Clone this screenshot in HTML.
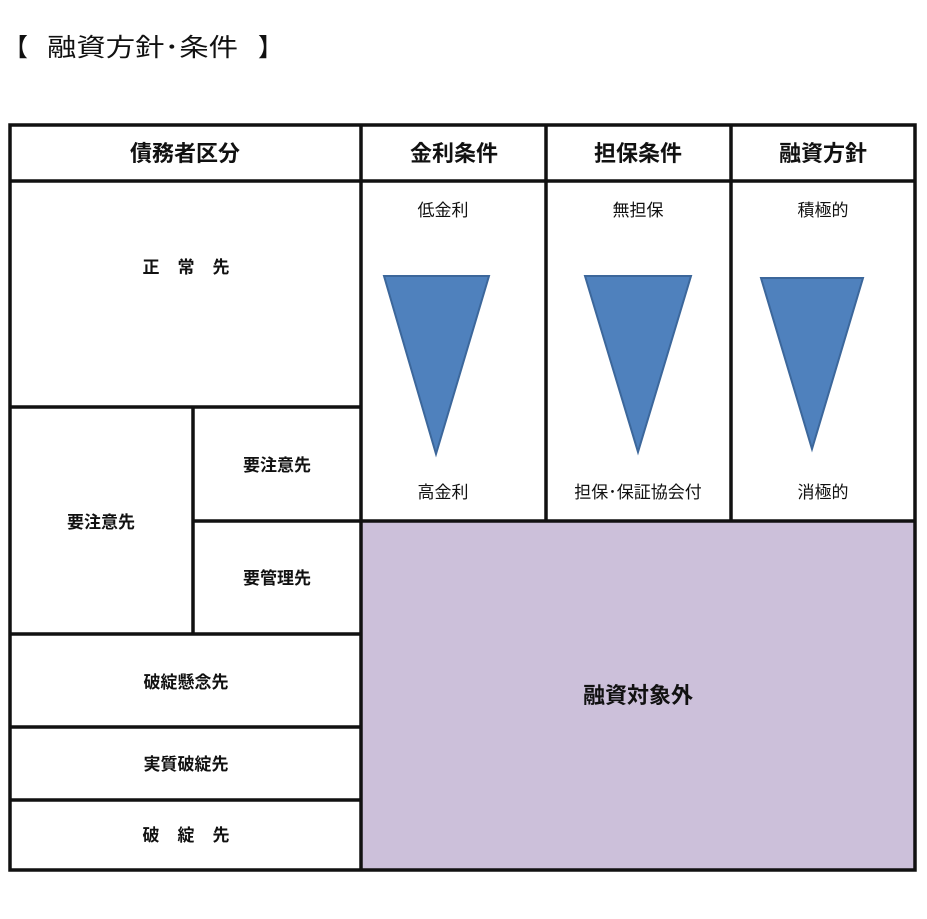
<!DOCTYPE html>
<html><head><meta charset="utf-8"><style>
html,body{margin:0;padding:0;background:#fff;}
svg{display:block;}
text{font-family:"Liberation Sans","Noto Sans CJK JP",sans-serif;fill:#111;}
</style></head><body>
<svg width="927" height="919" viewBox="0 0 927 919" xmlns="http://www.w3.org/2000/svg">
<text x="3" y="56" font-size="25">【</text>
<text x="47" y="56" font-size="25" textLength="191" lengthAdjust="spacingAndGlyphs">融資方針･条件</text>
<text x="258" y="56" font-size="25">】</text>
<rect x="361" y="521" width="554" height="349" fill="#ccc0da"/>
<g stroke="#111" stroke-width="3.5" fill="none">
<rect x="10" y="125" width="905" height="745"/>
<line x1="10" y1="181" x2="915" y2="181"/>
<line x1="361" y1="125" x2="361" y2="870"/>
<line x1="546" y1="125" x2="546" y2="521"/>
<line x1="731" y1="125" x2="731" y2="521"/>
<line x1="361" y1="521" x2="915" y2="521"/>
<line x1="10" y1="407" x2="361" y2="407"/>
<line x1="193" y1="407" x2="193" y2="634"/>
<line x1="193" y1="521" x2="361" y2="521"/>
<line x1="10" y1="634" x2="361" y2="634"/>
<line x1="10" y1="727" x2="361" y2="727"/>
<line x1="10" y1="800" x2="361" y2="800"/>
</g>
<g fill="#4f81bd" stroke="#3c679b" stroke-width="2">
<polygon points="384,276 489,276 436,454"/>
<polygon points="585,276 691,276 638,452"/>
<polygon points="761,278 863,278 812,449"/>
</g>
<g text-anchor="middle" font-size="22" font-weight="bold">
<text x="185" y="161">債務者区分</text>
<text x="454" y="161">金利条件</text>
<text x="638" y="161">担保条件</text>
<text x="823" y="161">融資方針</text>
</g>
<g text-anchor="middle" font-size="17">
<text x="443" y="216">低金利</text>
<text x="638" y="216">無担保</text>
<text x="823" y="216">積極的</text>
<text x="443" y="498">高金利</text>
<text x="638" y="498">担保･保証協会付</text>
<text x="823" y="498">消極的</text>
</g>
<g text-anchor="middle" font-size="17" font-weight="bold">
<text x="151" y="273">正</text><text x="186" y="273">常</text><text x="221" y="273">先</text>
<text x="277" y="471">要注意先</text>
<text x="277" y="584">要管理先</text>
<text x="101" y="528">要注意先</text>
<text x="186" y="688">破綻懸念先</text>
<text x="186" y="770">実質破綻先</text>
<text x="151" y="841">破</text><text x="186" y="841">綻</text><text x="221" y="841">先</text>
</g>
<text x="638" y="703" text-anchor="middle" font-size="22" font-weight="bold">融資対象外</text>
</svg>
</body></html>
